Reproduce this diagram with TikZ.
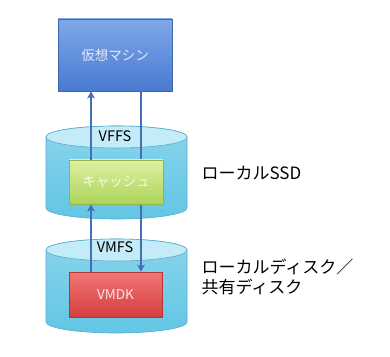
\documentclass[tikz,border=0pt]{standalone}
\usepackage{fontspec}
\setmainfont{Noto Sans CJK JP}
\usetikzlibrary{arrows.meta,positioning,calc}
\definecolor{vmtop}{RGB}{128,168,232}
\definecolor{vmbot}{RGB}{72,122,208}
\definecolor{cyltop}{RGB}{196,236,248}
\definecolor{cylbody}{RGB}{98,198,228}
\definecolor{cylline}{RGB}{88,172,206}
\definecolor{cachetop}{RGB}{222,240,162}
\definecolor{cachebot}{RGB}{172,212,88}
\definecolor{disktop}{RGB}{242,118,118}
\definecolor{diskbot}{RGB}{214,62,62}
\definecolor{arrowblue}{RGB}{70,110,182}
\tikzset{
  blk/.style 2 args={draw=#2!85!black, line width=0.6pt, top color=#1, bottom color=#2,
                     font=\fontsize{13.5}{16}\selectfont, inner sep=0pt},
  fslabel/.style={font=\fontsize{14.5}{17}\selectfont, text=black},
  sidelabel/.style={font=\fontsize{17}{20}\selectfont, align=left, anchor=west, text=black},
  conn/.style={draw=arrowblue, line width=2.2pt, -{Stealth[length=7pt,width=7.5pt,inset=1.5pt]}},
}

\begin{document}
\begin{tikzpicture}[x=1pt, y=1pt]
\useasboundingbox (0,0) rectangle (390,356);
% cylinders: local SSD (upper), local/shared disk (lower)
\foreach \yt/\yb in {219/148, 106/34} {
  \path[draw=cylline, top color=cylbody!75!white, bottom color=cylbody, line width=0.6pt]
    (46,\yt) -- (46,\yb) arc[start angle=180, end angle=360, x radius=70.5, y radius=11]
    -- (187,\yt) arc[start angle=0, end angle=180, x radius=70.5, y radius=11] -- cycle;
  \path[draw=cylline, fill=cyltop, line width=0.6pt]
    (116.5,\yt) ellipse[x radius=70.5, y radius=11];
}
\node[fslabel] (vffs) at (115,220) {VFFS};
\node[fslabel] (vmfs) at (115,109) {VMFS};

% boxes
\node[blk={vmtop}{vmbot}, minimum width=114, minimum height=72, text={rgb,255:red,228;green,234;blue,250}]
  (vm) at (115,301) {仮想マシン};
\node[blk={disktop}{diskbot}, minimum width=93, minimum height=45, text={rgb,255:red,252;green,228;blue,228}]
  (vmdk) at (115.5,61.5) {VMDK};

\coordinate (colL) at (91,0);
\coordinate (colR) at (141,0);

% write path straight to disk (behind the cache)
\draw[conn] (vm.south -| colR) -- (vmdk.north -| colR);

\node[blk={cachetop}{cachebot}, minimum width=94, minimum height=44, text={rgb,255:red,244;green,248;blue,230}]
  (cache) at (116,174) {キャッシュ};

% read path through the cache
\draw[conn] (vmdk.north -| colL) -- (cache.south -| colL);
\draw[conn] (cache.north -| colL) -- (vm.south -| colL);

% side labels
\node[sidelabel] (ssd) at (198,183) {ローカルSSD};
\node[sidelabel] (disk) at (198,79) {ローカルディスク／\\共有ディスク};
\end{tikzpicture}
\end{document}
